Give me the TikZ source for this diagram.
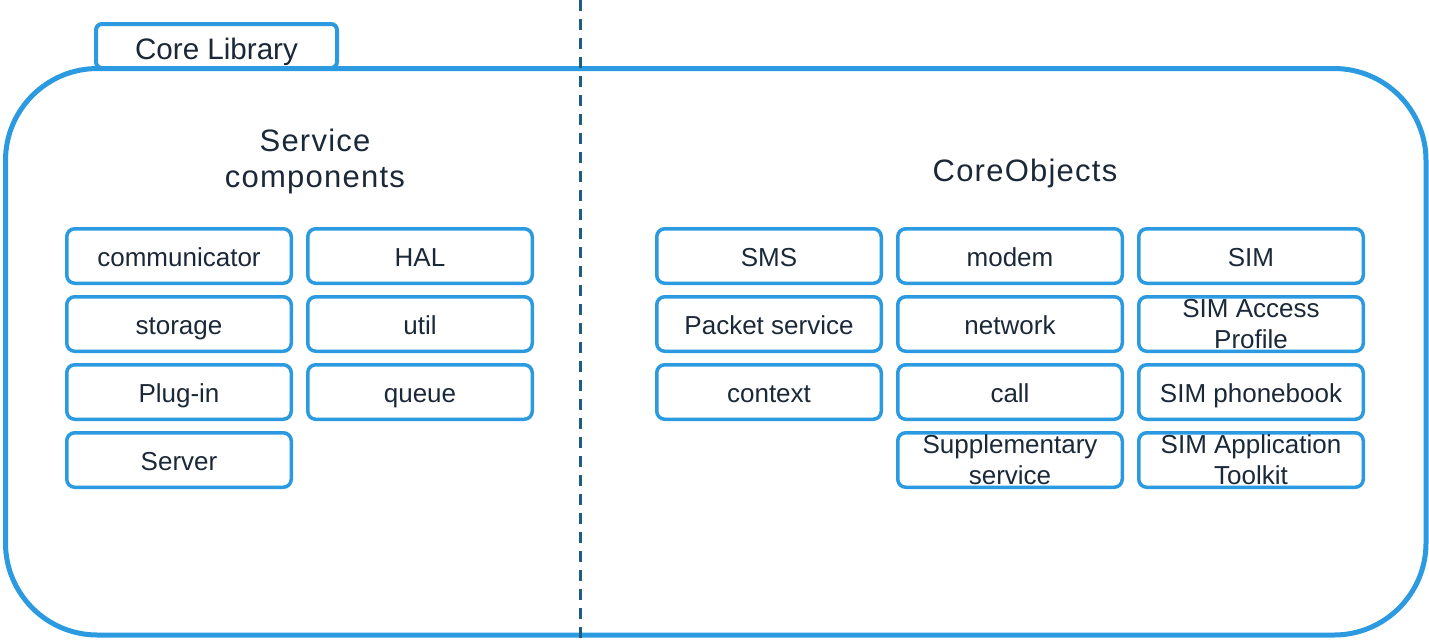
\documentclass[tikz,border=0pt]{standalone}
\usepackage{fontspec}
\setmainfont{Liberation Sans}
\newfontfamily\headfont[LetterSpace=4]{Liberation Sans}
\usetikzlibrary{positioning}

\definecolor{coreblue}{HTML}{2B9AE0}
\definecolor{divider}{HTML}{1D5E80}
\definecolor{ink}{HTML}{1B2838}

\begin{document}
\begin{tikzpicture}[x=0.5pt, y=-0.5pt, outer sep=0, text=ink,
    box/.style={draw=coreblue, line width=1.75pt, rounded corners=4pt,
      minimum width=112.25pt, minimum height=27.25pt, inner ysep=0pt,
      align=center, font=\fontsize{13pt}{15.5pt}\selectfont},
    oneline/.style={box, text height=10pt, text depth=0pt}]
        \useasboundingbox (0,0) rectangle (1429,639);
        % frame and tab
        \draw[coreblue, line width=2.5pt, rounded corners=46pt] (5.5,68.5) rectangle (1426,635);
        \node [draw=coreblue, fill=white, line width=2pt, rounded corners=3pt, minimum width=120.5pt,
          minimum height=22pt, inner ysep=0pt, text height=13pt, text depth=0pt,
          font=\fontsize{14.8pt}{17pt}\selectfont] (tab) at (216.5,46) {Core Library};
        \draw[divider, line width=1.5pt, dash pattern=on 5.5pt off 4pt] (580,0) -- (580,639);
        % headings
        \node [align=center, font=\headfont\fontsize{15.5pt}{18pt}\selectfont] (svc) at (315,161) {Service\\components};
        \node [anchor=base, font=\headfont\fontsize{15.5pt}{18pt}\selectfont] (obj) at (1025,181.5) {CoreObjects};
        % service components
        \node [oneline] (1) at (179,256) {communicator};
        \node [oneline, right = 8.25pt of 1] (2) {HAL};
        \node [oneline, below = 6.75pt of 1] (3) {storage};
        \node [oneline, below = 6.75pt of 2] (4) {util};
        \node [oneline, below = 6.75pt of 3] (5) {Plug-in};
        \node [oneline, below = 6.75pt of 4] (6) {queue};
        \node [oneline, below = 6.75pt of 5] (7) {Server};
        % core objects
        \node [oneline] (8) at (769,256) {SMS};
        \node [oneline, right = 8.25pt of 8] (9) {modem};
        \node [oneline, right = 8.25pt of 9] (10) {SIM};
        \node [oneline, below = 6.75pt of 8] (11) {Packet service};
        \node [oneline, below = 6.75pt of 9] (12) {network};
        \node [box, below = 6.75pt of 10] (13) {SIM Access\\Profile};
        \node [oneline, below = 6.75pt of 11] (14) {context};
        \node [oneline, below = 6.75pt of 12] (15) {call};
        \node [oneline, below = 6.75pt of 13] (16) {SIM phonebook};
        \node [box, below = 6.75pt of 15] (17) {Supplementary\\service};
        \node [box, below = 6.75pt of 16] (18) {SIM Application\\Toolkit};
    \end{tikzpicture}
\end{document}
